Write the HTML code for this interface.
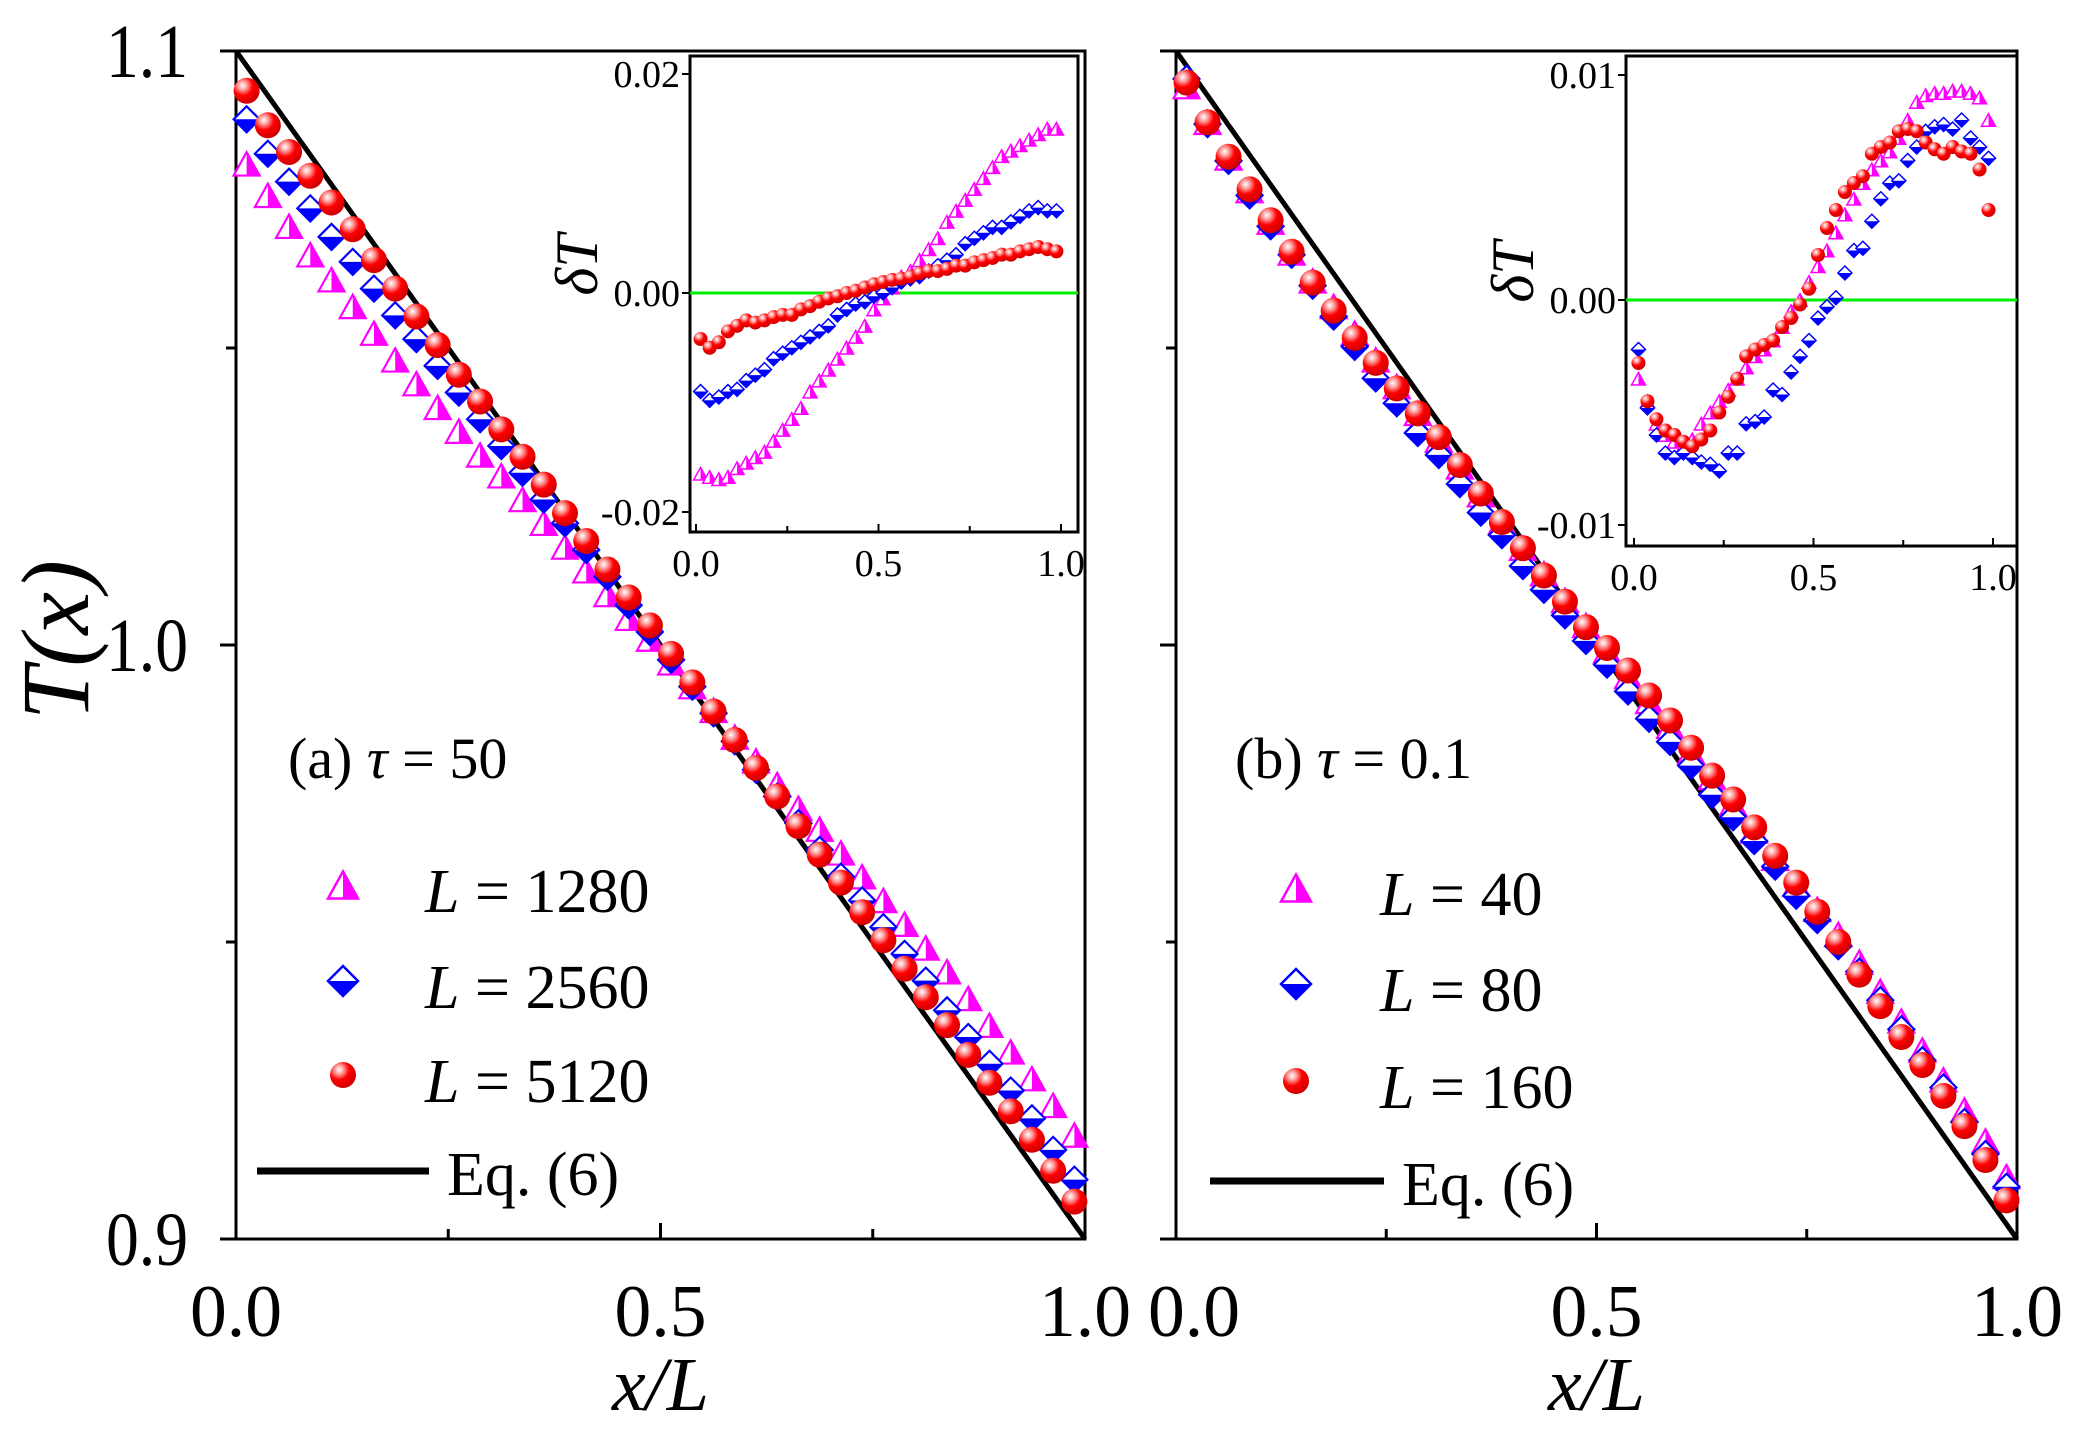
<!DOCTYPE html>
<html><head><meta charset="utf-8">
<style>
html,body{margin:0;padding:0;background:#fff;}
svg{display:block;font-family:"Liberation Serif",serif;}
</style></head>
<body>
<svg id="fig" width="2100" height="1453" viewBox="0 0 2100 1453" xmlns="http://www.w3.org/2000/svg">
<defs>
<radialGradient id="ball" cx="0.35" cy="0.3" r="0.7">
<stop offset="0" stop-color="#ffffff"/><stop offset="0.25" stop-color="#ff9a9a"/><stop offset="0.55" stop-color="#ff0000"/><stop offset="1" stop-color="#d00000"/>
</radialGradient>
</defs>
</svg>
<script>
// ---- data ----
const xPos = Array.from({length:40},(_,i)=>0.0125+0.025*i);
const aMagenta = [-0.0165,-0.0168,-0.0170,-0.0168,-0.0160,-0.0155,-0.0150,-0.0145,-0.0135,-0.0125,-0.0115,-0.0105,-0.0090,-0.0080,-0.0070,-0.0060,-0.0050,-0.0040,-0.0030,-0.0015,-0.0005,0.0005,0.0015,0.0020,0.0030,0.0040,0.0050,0.0065,0.0075,0.0085,0.0095,0.0105,0.0115,0.0125,0.0130,0.0135,0.0140,0.0145,0.0150,0.0150];
const aBlue = [-0.0090,-0.0098,-0.0095,-0.0090,-0.0088,-0.0080,-0.0075,-0.0070,-0.0060,-0.0055,-0.0050,-0.0045,-0.0040,-0.0035,-0.0030,-0.0020,-0.0015,-0.0010,-0.0008,-0.0003,0.0000,0.0005,0.0010,0.0013,0.0015,0.0020,0.0025,0.0030,0.0035,0.0045,0.0050,0.0055,0.0060,0.0060,0.0065,0.0070,0.0075,0.0078,0.0075,0.0075];
const aRed = [-0.0042,-0.0050,-0.0045,-0.0035,-0.0030,-0.0025,-0.0027,-0.0025,-0.0022,-0.0020,-0.0020,-0.0015,-0.0012,-0.0008,-0.0005,-0.0003,0.0000,0.0002,0.0005,0.0008,0.0010,0.0012,0.0013,0.0015,0.0018,0.0020,0.0020,0.0022,0.0025,0.0025,0.0028,0.0030,0.0032,0.0035,0.0035,0.0038,0.0040,0.0042,0.0040,0.0038];
const bMagenta = [-0.0035,-0.0045,-0.0055,-0.0060,-0.0063,-0.0065,-0.0062,-0.0055,-0.0050,-0.0045,-0.0040,-0.0035,-0.0030,-0.0025,-0.0022,-0.0018,-0.0012,-0.0005,0.0000,0.0008,0.0015,0.0022,0.0030,0.0038,0.0045,0.0052,0.0058,0.0062,0.0066,0.0072,0.0080,0.0088,0.0091,0.0092,0.0092,0.0093,0.0093,0.0092,0.0090,0.0080];
const bBlue = [-0.0022,-0.0048,-0.0060,-0.0068,-0.0070,-0.0068,-0.0070,-0.0072,-0.0073,-0.0076,-0.0068,-0.0068,-0.0055,-0.0054,-0.0052,-0.0040,-0.0042,-0.0032,-0.0025,-0.0018,-0.0008,-0.0003,0.0001,0.0012,0.0022,0.0023,0.0035,0.0045,0.0052,0.0053,0.0062,0.0068,0.0075,0.0077,0.0078,0.0076,0.0080,0.0072,0.0068,0.0063];
const bRed = [-0.0028,-0.0045,-0.0053,-0.0058,-0.0060,-0.0063,-0.0065,-0.0062,-0.0058,-0.0050,-0.0043,-0.0035,-0.0025,-0.0022,-0.0020,-0.0018,-0.0012,-0.0008,-0.0002,0.0005,0.0020,0.0032,0.0040,0.0048,0.0052,0.0055,0.0065,0.0068,0.0070,0.0075,0.0076,0.0075,0.0070,0.0067,0.0065,0.0068,0.0066,0.0065,0.0058,0.0040];
const mainXTicks = ["0.0","0.5","1.0"];
const mainYTicks = ["0.9","1.0","1.1"];
const insetAYTicks = ["-0.02","0.00","0.02"];
const insetBYTicks = ["-0.01","0.00","0.01"];
const legendA = ["L = 1280","L = 2560","L = 5120"];
const legendB = ["L = 40","L = 80","L = 160"];

const NS="http://www.w3.org/2000/svg";
const svg=document.getElementById('fig');
function el(tag,attrs,parent){const e=document.createElementNS(NS,tag);for(const k in attrs)e.setAttribute(k,attrs[k]);(parent||svg).appendChild(e);return e;}
function line(x1,y1,x2,y2,w,c,p){return el('line',{x1,y1,x2,y2,stroke:c||'#000','stroke-width':w||3},p);}
function txt(x,y,s,size,anchor,p,extra){const t=el('text',Object.assign({x,y,'font-size':size,'text-anchor':anchor||'start',fill:'#000'},extra||{}),p);t.textContent=s;return t;}

function tri(g,x,y,s){
  const h=s*0.9;
  el('polygon',{points:`${x-s/2},${y+h/2} ${x},${y-h/2} ${x+s/2},${y+h/2}`,fill:'#fff',stroke:'#ff00ff','stroke-width':Math.max(1.5,s/12)},g);
  el('polygon',{points:`${x},${y+h/2} ${x},${y-h/2} ${x+s/2},${y+h/2}`,fill:'#ff00ff'},g);
}
function dia(g,x,y,s){
  el('polygon',{points:`${x-s/2},${y} ${x},${y-s/2} ${x+s/2},${y} ${x},${y+s/2}`,fill:'#fff',stroke:'#0000ff','stroke-width':Math.max(1.5,s/12)},g);
  el('polygon',{points:`${x-s/2},${y} ${x+s/2},${y} ${x},${y+s/2}`,fill:'#0000ff'},g);
}
function ball(g,x,y,s){el('circle',{cx:x,cy:y,r:s/2,fill:'url(#ball)'},g);}

function panel(cfg){
  const g=el('g',{});
  
  
  const X0=cfg.x0,X1=cfg.x1,Y0=51,Y1=1239;
  const sx=v=>X0+(X1-X0)*v;
  const sy=v=>Y1-(Y1-Y0)*(v-0.9)/0.2;
  const ax=el('rect',{x:X0,y:Y0,width:X1-X0,height:Y1-Y0,fill:'none',stroke:'#000','stroke-width':3},g);
  
  
  [0.9,0.95,1.0,1.05,1.1].forEach(v=>{const maj=Math.abs(v*10-Math.round(v*10))<1e-6;line(X0-(maj?16:10),sy(v),X0,sy(v),3,'#000',g);});
  if(cfg.ylabels){mainYTicks.forEach(s=>{const t=txt(X0-48,sy(parseFloat(s))+26,s,76,'end',g,{textLength:82,lengthAdjust:'spacingAndGlyphs'});});}
  [0,0.25,0.5,0.75,1].forEach(v=>line(sx(v),Y1,sx(v),Y1-(v%0.5===0?16:10),3,'#000',g));
  mainXTicks.forEach(s=>{const v=parseFloat(s);const off=(v===0?cfg.x0off:0);const t=txt(sx(v)+off,1336,s,74,'middle',g,{textLength:92,lengthAdjust:'spacingAndGlyphs'});});
  const xl=txt((X0+X1)/2,1410,'',76,'middle',g,{'font-style':'italic'});
  xl.textContent='x/L';
  
  
  const th=line(sx(0),sy(1.1),sx(1),sy(0.9),5,'#000',g);
  
  
  const theo=x=>1.1-0.2*x;
  const series=[[cfg.m,tri,'series-triangle'],[cfg.b,dia,'series-diamond'],[cfg.r,ball,'series-ball']];
  series.forEach(([arr,fn,nm])=>{const sg=el('g',{},g);
    arr.forEach((d,i)=>fn(sg,sx(xPos[i]),sy(theo(xPos[i])+d),cfg.ms));});
  const pl=el('text',{x:cfg.lx,y:778,'font-size':58,fill:'#000'},g);
  
  
  const p1=el('tspan',{},pl);p1.textContent=cfg.label[0]+' ';
  const p2=el('tspan',{'font-style':'italic'},pl);p2.textContent='τ';
  const p3=el('tspan',{},pl);p3.textContent=' = '+cfg.label[1];
  const lg=el('g',{},g);
  
  
  const fns=[tri,dia,ball];
  cfg.legend.forEach((s,i)=>{const y=cfg.ly[i];fns[i](lg,cfg.mx,y-27,i==2?26:30);
    const t=el('text',{x:cfg.tx,y:y,'font-size':62,fill:'#000'},lg);
    
    
    const a=el('tspan',{'font-style':'italic'},t);a.textContent='L';
    const b=el('tspan',{},t);b.textContent=s.slice(1);});
  line(cfg.mx-86,cfg.ly[3]-24,cfg.tx+4,cfg.ly[3]-24,7,'#000',lg);
  txt(cfg.tx+22,cfg.ly[3],'Eq. (6)',62,'start',lg);
  const I=cfg.inset;
  const ig=el('g',{},g);
  
  
  el('rect',{x:I.l,y:I.t,width:I.r-I.l,height:I.b-I.t,fill:'#fff',stroke:'#000','stroke-width':3},ig);
  const ix=v=>I.x0+(I.x1-I.x0)*v;
  const iy=v=>I.y0+(I.ym-I.y0)*v/I.ymax;
  [0,0.25,0.5,0.75,1].forEach(v=>line(ix(v),I.b,ix(v),I.b-(v%0.5===0?8:6),2,'#000',ig));
  ["0.0","0.5","1.0"].forEach(s=>txt(ix(parseFloat(s)),I.b+44,s,38,'middle',ig));
  I.ticks.forEach(s=>{const v=parseFloat(s);line(I.l-8,iy(v),I.l,iy(v),2,'#000',ig);txt(I.l-10,iy(v)+13,s,38,'end',ig);});
  const zl=line(I.l,iy(0),I.r,iy(0),3,'#00ee00',ig);
  
  
  const dl=txt(0,0,'',60,'middle',ig,{transform:`translate(${I.l-93},${iy(0)-28}) rotate(-90)`,'font-style':'italic'});
  dl.textContent='δT';
  
  
  series.forEach(([arr,fn,nm])=>{const sg=el('g',{},ig);
    arr.forEach((d,i)=>fn(sg,ix(xPos[i]),iy(d),14));});
}

panel({name:'panel-a',x0:236,x1:1085,x0off:0,ylabels:true,m:aMagenta,b:aBlue,r:aRed,ms:26,
  label:['(a)','50'],lx:288,legend:legendA,mx:343,tx:425,ly:[912,1008,1102,1195],
  inset:{l:690,r:1078,t:56,b:532,x0:696,x1:1061,y0:293,ym:74,ymax:0.02,ticks:insetAYTicks}});
panel({name:'panel-b',x0:1176,x1:2017,x0off:18,ylabels:false,m:bMagenta,b:bBlue,r:bRed,ms:26,
  label:['(b)','0.1'],lx:1235,legend:legendB,mx:1296,tx:1380,ly:[915,1011,1108,1205],
  inset:{l:1626,r:2017,t:56,b:546,x0:1634,x1:1993,y0:300,ym:75,ymax:0.01,ticks:insetBYTicks}});

const yt=txt(0,0,'T(x)',96,'middle',svg,{transform:'translate(88,640) rotate(-90)','font-style':'italic'});


</script>
</body></html>
